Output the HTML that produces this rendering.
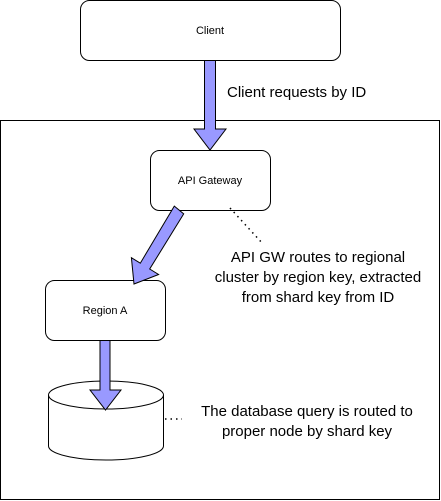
<!DOCTYPE html>
<html><head><style>html,body{margin:0;padding:0;background:#fff}svg{display:block}</style></head>
<body>
<svg width="441" height="501" xmlns="http://www.w3.org/2000/svg" font-family="Liberation Sans, Arial, sans-serif">
<rect x="0.5" y="120.5" width="439" height="379" fill="#fff" stroke="#000"/>
<rect x="80.5" y="0.5" width="260" height="60" rx="9" fill="#fff" stroke="#000"/>
<text x="210" y="34" font-size="11" text-anchor="middle">Client</text>
<rect x="150.5" y="150.5" width="120" height="60" rx="9" fill="#fff" stroke="#000"/>
<text x="210" y="184" font-size="11" text-anchor="middle">API Gateway</text>
<rect x="45.5" y="280.5" width="120" height="60" rx="9" fill="#fff" stroke="#000"/>
<text x="105" y="314" font-size="11" text-anchor="middle">Region A</text>
<path d="M48.5 395 A57.5 14 0 0 1 163.5 395 L163.5 446 A57.5 14 0 0 1 48.5 446 Z" fill="#fff" stroke="#000"/>
<path d="M48.5 395 A57.5 14 0 0 0 163.5 395" fill="none" stroke="#000"/>
<!-- arrow 1 -->
<path d="M204.5 60.5 L215.5 60.5 L215.5 129 L226 129 L210 150 L194 129 L204.5 129 Z" fill="#9999ff" stroke="#000"/>
<!-- arrow 2 -->
<path d="M174.3 206.1 L183.7 213.9 L149.7 269 L158.6 274.5 L134 284 L131.4 257.7 L140.3 263.2 Z" fill="#9999ff" stroke="#000"/>
<!-- arrow 3 -->
<path d="M100 340.5 L110 340.5 L110 390 L121 390 L105.5 410 L90 390 L100 390 Z" fill="#9999ff" stroke="#000"/>
<line x1="230" y1="208" x2="263" y2="244" stroke="#000" stroke-width="1.5" stroke-dasharray="1.5,4"/>
<line x1="165" y1="419" x2="182" y2="419" stroke="#000" stroke-width="1.5" stroke-dasharray="1.5,4"/>
<text x="227" y="97" font-size="15">Client requests by ID</text>
<g font-size="15" text-anchor="middle">
<text x="318" y="262">API GW routes to regional</text>
<text x="318" y="282">cluster by region key, extracted</text>
<text x="318" y="302">from shard key from ID</text>
<text x="307" y="416">The database query is routed to</text>
<text x="307" y="436">proper node by shard key</text>
</g>
</svg>
</body></html>
